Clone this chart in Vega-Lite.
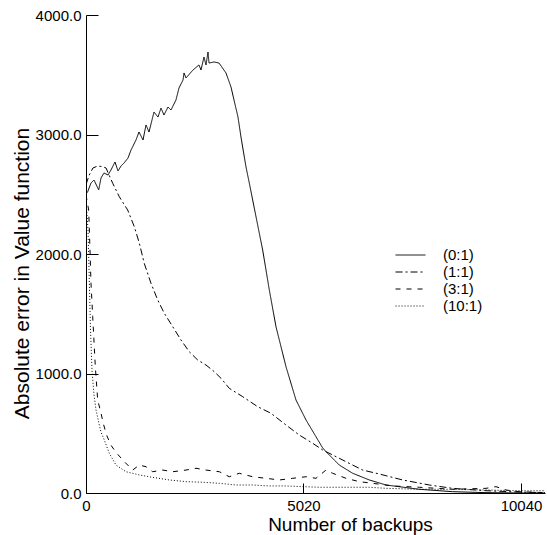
{
  "$schema": "https://vega.github.io/schema/vega-lite/v6.json",
  "width": 459,
  "height": 478,
  "autosize": {"type": "none"},
  "padding": {"left": 86, "top": 15, "right": 2, "bottom": 42},
  "background": "white",
  "config": {
    "view": {"stroke": null},
    "font": "Liberation Sans",
    "axis": {"grid": false, "domainColor": "black", "tickColor": "black", "labelColor": "black", "titleColor": "black", "labelFont": "Liberation Sans", "titleFont": "Liberation Sans", "titleFontWeight": "normal", "labelFontSize": 15, "titleFontSize": 20},
    "legend": {"labelFont": "Liberation Sans", "labelFontSize": 15, "labelColor": "black"}
  },
  "data": {"values": [
    {"s":"(0:1)","x":0,"y":2500},{"s":"(0:1)","x":39,"y":2521},{"s":"(0:1)","x":115,"y":2594},{"s":"(0:1)","x":185,"y":2619},{"s":"(0:1)","x":293,"y":2536},{"s":"(0:1)","x":346,"y":2636},{"s":"(0:1)","x":415,"y":2678},{"s":"(0:1)","x":508,"y":2661},{"s":"(0:1)","x":577,"y":2703},{"s":"(0:1)","x":669,"y":2770},{"s":"(0:1)","x":739,"y":2695},{"s":"(0:1)","x":808,"y":2736},{"s":"(0:1)","x":877,"y":2761},{"s":"(0:1)","x":969,"y":2803},{"s":"(0:1)","x":1039,"y":2870},{"s":"(0:1)","x":1154,"y":2954},{"s":"(0:1)","x":1223,"y":3021},{"s":"(0:1)","x":1316,"y":2954},{"s":"(0:1)","x":1385,"y":3080},{"s":"(0:1)","x":1454,"y":3021},{"s":"(0:1)","x":1569,"y":3188},{"s":"(0:1)","x":1662,"y":3146},{"s":"(0:1)","x":1731,"y":3221},{"s":"(0:1)","x":1800,"y":3163},{"s":"(0:1)","x":1893,"y":3230},{"s":"(0:1)","x":1962,"y":3205},{"s":"(0:1)","x":2077,"y":3289},{"s":"(0:1)","x":2146,"y":3389},{"s":"(0:1)","x":2239,"y":3456},{"s":"(0:1)","x":2262,"y":3515},{"s":"(0:1)","x":2308,"y":3473},{"s":"(0:1)","x":2470,"y":3540},{"s":"(0:1)","x":2608,"y":3582},{"s":"(0:1)","x":2654,"y":3540},{"s":"(0:1)","x":2723,"y":3648},{"s":"(0:1)","x":2770,"y":3582},{"s":"(0:1)","x":2816,"y":3690},{"s":"(0:1)","x":2839,"y":3598},{"s":"(0:1)","x":2954,"y":3607},{"s":"(0:1)","x":3070,"y":3598},{"s":"(0:1)","x":3231,"y":3515},{"s":"(0:1)","x":3347,"y":3397},{"s":"(0:1)","x":3416,"y":3289},{"s":"(0:1)","x":3508,"y":3146},{"s":"(0:1)","x":3577,"y":2979},{"s":"(0:1)","x":3693,"y":2728},{"s":"(0:1)","x":3769,"y":2594},{"s":"(0:1)","x":3924,"y":2312},{"s":"(0:1)","x":4078,"y":2033},{"s":"(0:1)","x":4231,"y":1699},{"s":"(0:1)","x":4385,"y":1392},{"s":"(0:1)","x":4616,"y":1057},{"s":"(0:1)","x":4847,"y":778},{"s":"(0:1)","x":5078,"y":611},{"s":"(0:1)","x":5308,"y":471},{"s":"(0:1)","x":5463,"y":377},{"s":"(0:1)","x":5539,"y":346},{"s":"(0:1)","x":5846,"y":234},{"s":"(0:1)","x":6155,"y":165},{"s":"(0:1)","x":6539,"y":109},{"s":"(0:1)","x":6924,"y":67},{"s":"(0:1)","x":7693,"y":31},{"s":"(0:1)","x":8463,"y":11},{"s":"(0:1)","x":9232,"y":3},{"s":"(0:1)","x":9994,"y":0},{"s":"(0:1)","x":10594,"y":0},
    {"s":"(1:1)","x":0,"y":2580},{"s":"(1:1)","x":35,"y":2619},{"s":"(1:1)","x":76,"y":2661},{"s":"(1:1)","x":160,"y":2720},{"s":"(1:1)","x":270,"y":2736},{"s":"(1:1)","x":369,"y":2732},{"s":"(1:1)","x":462,"y":2720},{"s":"(1:1)","x":616,"y":2592},{"s":"(1:1)","x":769,"y":2479},{"s":"(1:1)","x":962,"y":2368},{"s":"(1:1)","x":1115,"y":2228},{"s":"(1:1)","x":1230,"y":2092},{"s":"(1:1)","x":1346,"y":1920},{"s":"(1:1)","x":1500,"y":1755},{"s":"(1:1)","x":1655,"y":1615},{"s":"(1:1)","x":1807,"y":1504},{"s":"(1:1)","x":2001,"y":1392},{"s":"(1:1)","x":2193,"y":1280},{"s":"(1:1)","x":2384,"y":1182},{"s":"(1:1)","x":2578,"y":1113},{"s":"(1:1)","x":2770,"y":1071},{"s":"(1:1)","x":2961,"y":1015},{"s":"(1:1)","x":3116,"y":960},{"s":"(1:1)","x":3307,"y":876},{"s":"(1:1)","x":3617,"y":806},{"s":"(1:1)","x":3963,"y":722},{"s":"(1:1)","x":4270,"y":667},{"s":"(1:1)","x":4616,"y":569},{"s":"(1:1)","x":4923,"y":485},{"s":"(1:1)","x":5232,"y":416},{"s":"(1:1)","x":5463,"y":360},{"s":"(1:1)","x":5694,"y":318},{"s":"(1:1)","x":6001,"y":262},{"s":"(1:1)","x":6386,"y":192},{"s":"(1:1)","x":6769,"y":159},{"s":"(1:1)","x":7309,"y":109},{"s":"(1:1)","x":7923,"y":67},{"s":"(1:1)","x":8463,"y":39},{"s":"(1:1)","x":9232,"y":19},{"s":"(1:1)","x":10000,"y":8},{"s":"(1:1)","x":10594,"y":3},
    {"s":"(3:1)","x":0,"y":2494},{"s":"(3:1)","x":62,"y":2368},{"s":"(3:1)","x":92,"y":2033},{"s":"(3:1)","x":115,"y":1757},{"s":"(3:1)","x":155,"y":1475},{"s":"(3:1)","x":215,"y":1057},{"s":"(3:1)","x":270,"y":778},{"s":"(3:1)","x":346,"y":669},{"s":"(3:1)","x":400,"y":580},{"s":"(3:1)","x":480,"y":480},{"s":"(3:1)","x":577,"y":400},{"s":"(3:1)","x":692,"y":340},{"s":"(3:1)","x":884,"y":262},{"s":"(3:1)","x":1078,"y":192},{"s":"(3:1)","x":1230,"y":234},{"s":"(3:1)","x":1385,"y":220},{"s":"(3:1)","x":1539,"y":178},{"s":"(3:1)","x":1770,"y":192},{"s":"(3:1)","x":2001,"y":178},{"s":"(3:1)","x":2308,"y":192},{"s":"(3:1)","x":2539,"y":207},{"s":"(3:1)","x":2770,"y":192},{"s":"(3:1)","x":3077,"y":178},{"s":"(3:1)","x":3307,"y":136},{"s":"(3:1)","x":3538,"y":165},{"s":"(3:1)","x":3847,"y":136},{"s":"(3:1)","x":4154,"y":123},{"s":"(3:1)","x":4461,"y":109},{"s":"(3:1)","x":4770,"y":123},{"s":"(3:1)","x":5078,"y":136},{"s":"(3:1)","x":5308,"y":123},{"s":"(3:1)","x":5539,"y":192},{"s":"(3:1)","x":5694,"y":165},{"s":"(3:1)","x":6001,"y":123},{"s":"(3:1)","x":6308,"y":95},{"s":"(3:1)","x":6617,"y":81},{"s":"(3:1)","x":7079,"y":59},{"s":"(3:1)","x":7693,"y":48},{"s":"(3:1)","x":8463,"y":31},{"s":"(3:1)","x":9232,"y":39},{"s":"(3:1)","x":9463,"y":53},{"s":"(3:1)","x":9694,"y":25},{"s":"(3:1)","x":10000,"y":11},{"s":"(3:1)","x":10594,"y":3},
    {"s":"(10:1)","x":0,"y":2452},{"s":"(10:1)","x":46,"y":2201},{"s":"(10:1)","x":76,"y":1782},{"s":"(10:1)","x":104,"y":1364},{"s":"(10:1)","x":138,"y":1029},{"s":"(10:1)","x":185,"y":820},{"s":"(10:1)","x":231,"y":695},{"s":"(10:1)","x":307,"y":569},{"s":"(10:1)","x":346,"y":510},{"s":"(10:1)","x":422,"y":444},{"s":"(10:1)","x":538,"y":332},{"s":"(10:1)","x":692,"y":234},{"s":"(10:1)","x":923,"y":178},{"s":"(10:1)","x":1230,"y":151},{"s":"(10:1)","x":1539,"y":131},{"s":"(10:1)","x":1923,"y":109},{"s":"(10:1)","x":2308,"y":95},{"s":"(10:1)","x":2693,"y":90},{"s":"(10:1)","x":3077,"y":81},{"s":"(10:1)","x":3462,"y":67},{"s":"(10:1)","x":3847,"y":67},{"s":"(10:1)","x":4231,"y":59},{"s":"(10:1)","x":4616,"y":59},{"s":"(10:1)","x":5001,"y":53},{"s":"(10:1)","x":5385,"y":48},{"s":"(10:1)","x":5770,"y":48},{"s":"(10:1)","x":6155,"y":48},{"s":"(10:1)","x":6539,"y":48},{"s":"(10:1)","x":6924,"y":39},{"s":"(10:1)","x":7693,"y":31},{"s":"(10:1)","x":8463,"y":31},{"s":"(10:1)","x":9232,"y":25},{"s":"(10:1)","x":10000,"y":19},{"s":"(10:1)","x":10594,"y":19}
  ]},
  "mark": {"type": "line", "color": "black", "strokeWidth": 1, "clip": true},
  "encoding": {
    "x": {"field": "x", "type": "quantitative", "scale": {"domain": [0, 10594], "nice": false, "zero": false},
      "axis": {"values": [0, 5020, 10040], "format": "d", "title": "Number of backups", "tickSize": -10, "labelPadding": 15, "labelFlush": false, "titleX": 264, "titleY": 37, "titleAlign": "center", "titleBaseline": "alphabetic", "titleFontSize": 19}},
    "y": {"field": "y", "type": "quantitative", "scale": {"domain": [0, 4000], "nice": false},
      "axis": {"values": [0, 1000, 2000, 3000, 4000], "format": ".1f", "title": "Absolute error in Value function", "tickSize": -12, "labelPadding": 17, "labelFlush": false, "titleX": -58, "titleY": 258, "titleAngle": -90, "titleAlign": "center", "titleBaseline": "alphabetic", "titleFontSize": 21}},
    "strokeDash": {"field": "s", "type": "nominal",
      "scale": {"domain": ["(0:1)", "(1:1)", "(3:1)", "(10:1)"], "range": [[1, 0], [7, 3, 2, 3], [5, 6], [1, 2]]},
      "legend": {"title": null, "orient": "none", "legendX": 315.5, "legendY": 231, "symbolType": "M-1.76,0H1.76", "symbolSize": 289, "symbolStrokeWidth": 1, "symbolStrokeColor": "black", "symbolFillColor": "transparent", "labelOffset": 23.5, "rowPadding": 0}},
    "order": {"field": "x", "type": "quantitative"}
  }
}
